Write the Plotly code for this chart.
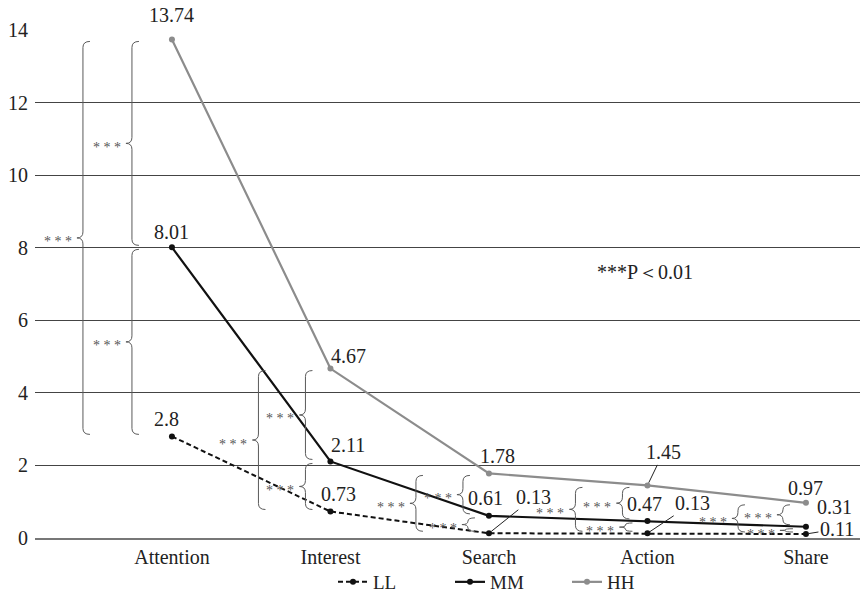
import plotly.graph_objects as go

# ---------------- data ----------------
categories = ["Attention", "Interest", "Search", "Action", "Share"]
ll_values = [2.8, 0.73, 0.13, 0.13, 0.11]
mm_values = [8.01, 2.11, 0.61, 0.47, 0.31]
hh_values = [13.74, 4.67, 1.78, 1.45, 0.97]
series_names = ["LL", "MM", "HH"]
y_ticks = [0, 2, 4, 6, 8, 10, 12, 14]
sig_text = "* * *"
note_text = "***P＜0.01"

# ---------------- styling / geometry ----------------
W, H = 860, 597
ML, MR, MT, MB = 35, 0, 30, 59
XR = [-0.864, 4.341]
YR = [0, 14]
PXX = (W - ML - MR) / (XR[1] - XR[0])   # px per category unit
PXY = (H - MT - MB) / (YR[1] - YR[0])   # px per y unit
FONT = "Liberation Serif, Times New Roman, serif"
GRAY = "#8c8c8c"
BRACE = "#5a5a5a"
FS = 20

series = {"LL": ll_values, "MM": mm_values, "HH": hh_values}
xpos = list(range(len(categories)))

fig = go.Figure()
styles = {
    "LL": dict(color="#111111", dash="5px,3px", width=2),
    "MM": dict(color="#111111", dash="solid", width=2.2),
    "HH": dict(color=GRAY, dash="solid", width=2.2),
}
for name in series_names:
    st = styles[name]
    fig.add_trace(go.Scatter(
        x=xpos, y=series[name], name=name, mode="lines+markers",
        line=dict(color=st["color"], dash=st["dash"], width=st["width"]),
        marker=dict(color=st["color"], size=6),
        cliponaxis=False,
    ))

# ---------------- value labels (offsets in px: dx, dy_up, leader) ----------------
label_offsets = {
    "HH": [(0, 24, False), (18, 13, False), (9, 17, False), (16, 33, True), (0, 15, False)],
    "MM": [(0, 15, False), (18, 16, False), (-3, 18, False), (-3, 17, False), (29, 20, False)],
    "LL": [(-5, 17, False), (8, 18, False), (45, 36, True), (45, 30, True), (31, 5, True)],
}
annotations = []
for name in series_names:
    for i, v in enumerate(series[name]):
        dx, dy, leader = label_offsets[name][i]
        if leader:
            annotations.append(dict(
                x=xpos[i], y=v, text=f"{v:g}", showarrow=True, ax=dx, ay=-dy,
                arrowhead=0, arrowwidth=1, arrowcolor="#222", standoff=3,
                font=dict(family=FONT, size=FS, color="#222"),
            ))
        else:
            annotations.append(dict(
                x=xpos[i], y=v, text=f"{v:g}", showarrow=False,
                xshift=dx, yshift=dy,
                font=dict(family=FONT, size=FS, color="#222"),
            ))

# ---------------- significance braces ----------------
# (category index, upper series, lower series, horizontal offset px from category)
braces = [
    (0, "HH", "LL", -89), (0, "HH", "MM", -40), (0, "MM", "LL", -40),
    (1, "HH", "LL", -72), (1, "HH", "MM", -25), (1, "MM", "LL", -25),
    (2, "HH", "LL", -73), (2, "HH", "MM", -26), (2, "MM", "LL", -21),
    (3, "HH", "LL", -72), (3, "HH", "MM", -25), (3, "MM", "LL", -22),
    (4, "HH", "LL", -68), (4, "HH", "MM", -23), (4, "MM", "LL", -20),
]
shapes = []
for ci, up, lo, dxp in braces:
    y1 = series[up][ci] - 2 / PXY
    y0 = series[lo][ci] + 2 / PXY
    ym = (series[up][ci] + series[lo][ci]) / 2
    x = xpos[ci] + dxp / PXX
    h = 7 / PXX
    t = 6 / PXX
    span_px = (y1 - y0) * PXY
    r = min(6, span_px / 4) / PXY
    path = (
        f"M {x + h},{y1} Q {x},{y1} {x},{y1 - r} "
        f"L {x},{ym + r} Q {x},{ym} {x - t},{ym} "
        f"Q {x},{ym} {x},{ym - r} "
        f"L {x},{y0 + r} Q {x},{y0} {x + h},{y0}"
    )
    shapes.append(dict(type="path", path=path, xref="x", yref="y",
                       line=dict(color=BRACE, width=1)))
    annotations.append(dict(
        x=x, y=ym, text=sig_text, showarrow=False, xanchor="right",
        xshift=-9, yshift=-4,
        font=dict(family=FONT, size=14, color="#555555"),
    ))

annotations.append(dict(
    x=(645 - ML) / PXX + XR[0], y=(H - MB - 272) / PXY, text=note_text,
    showarrow=False, font=dict(family=FONT, size=FS, color="#222"),
))

fig.update_layout(
    width=W, height=H,
    margin=dict(l=ML, r=MR, t=MT, b=MB, autoexpand=False),
    paper_bgcolor="white", plot_bgcolor="white",
    font=dict(family=FONT, size=FS, color="#222"),
    showlegend=True,
    legend=dict(orientation="h", x=(333 - ML) / (W - ML - MR), xanchor="left",
                yref="container", y=1 - 582 / H, yanchor="middle",
                entrywidth=72, entrywidthmode="pixels",
                font=dict(family=FONT, size=19, color="#222"), itemwidth=30,
                bgcolor="rgba(0,0,0,0)"),
    shapes=shapes,
    annotations=annotations,
    xaxis=dict(range=XR, tickmode="array", tickvals=xpos, ticktext=categories,
               showgrid=False, zeroline=False, showline=True, linecolor="#777",
               linewidth=1.5, ticks="", automargin=False,
               tickfont=dict(family=FONT, size=FS, color="#222")),
    yaxis=dict(range=YR, tickmode="array", tickvals=y_ticks, showgrid=True,
               gridcolor="#444", gridwidth=1, zeroline=False, showline=False,
               ticks="", automargin=False, ticklabelstandoff=6,
               tickfont=dict(family=FONT, size=FS, color="#222")),
)

fig.write_html("out.html", config={"displayModeBar": False},
               post_script="document.body.style.margin='0';document.body.style.overflow='hidden';")
